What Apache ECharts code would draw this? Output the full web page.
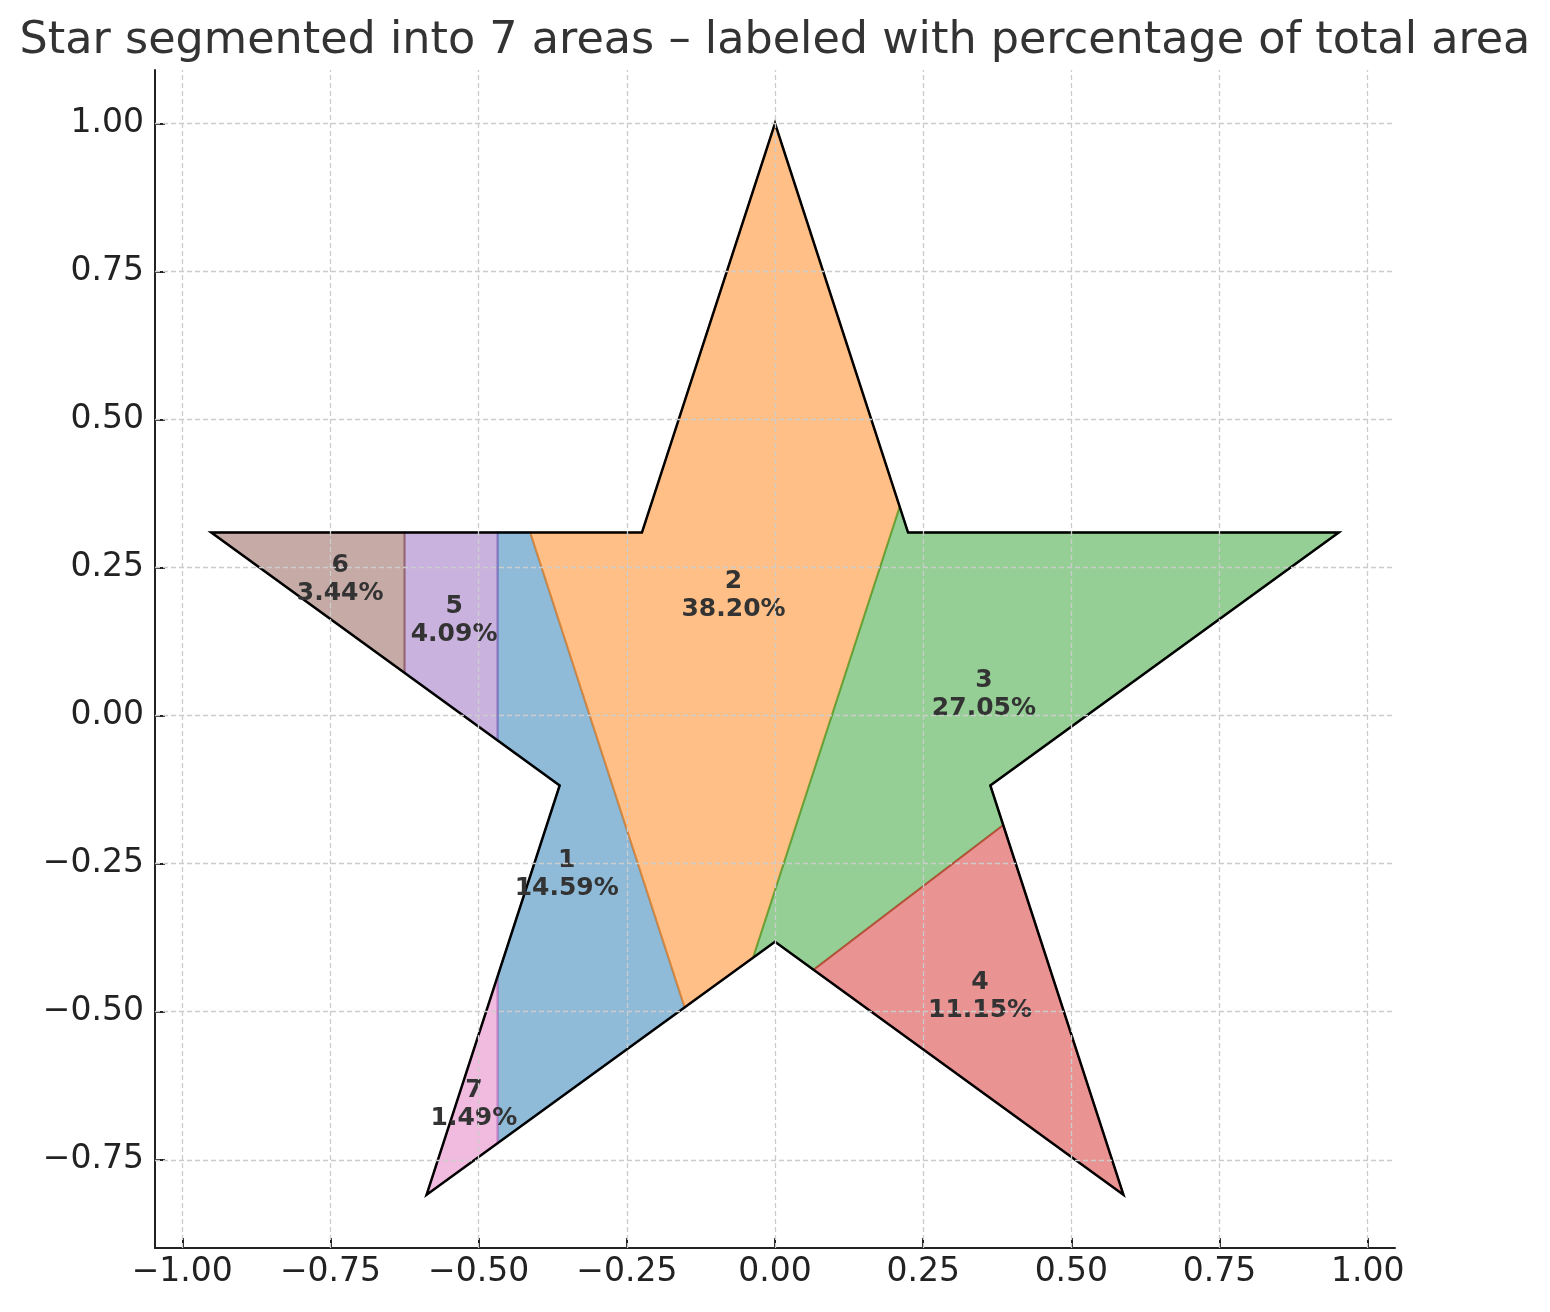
<!DOCTYPE html>
<html>
<head>
<meta charset="utf-8">
<title>Star segmented into 7 areas</title>
<script src="https://cdn.jsdelivr.net/npm/echarts@6/dist/echarts.min.js"></script>
<style>
	html, body { margin: 0; padding: 0; background: #fff; }
	#chart { width: 1550px; height: 1312px; }
</style>
</head>
<body>
<div id="chart"></div>
<script>
	// tick labels
	const xTicks = [-1, -0.75, -0.5, -0.25, 0, 0.25, 0.5, 0.75, 1];
	const yTicks = [-0.75, -0.5, -0.25, 0, 0.25, 0.5, 0.75, 1];

	// regions: id, share label, colour (tab10)
	const regionIds = ['1', '2', '3', '4', '5', '6', '7'];
	const regionShares = ['14.59%', '38.20%', '27.05%', '11.15%', '4.09%', '3.44%', '1.49%'];
	const regionColors = ['31,119,180', '255,127,14', '44,160,44', '214,39,40', '148,103,189', '140,86,75', '227,119,194'];

	// star outline (outer radius 1, inner 0.382)
	const starVertices = [
		[0, 1], [-0.224514, 0.309017], [-0.951057, 0.309017], [-0.363271, -0.118034],
		[-0.587785, -0.809017], [0, -0.381966], [0.587785, -0.809017], [0.363271, -0.118034],
		[0.951057, 0.309017], [0.224514, 0.309017]
	];

	// region outlines
	const region1 = [[-0.468, 0.309017], [-0.413, 0.309017], [-0.15249, -0.492756], [-0.468, -0.721987],
		[-0.468, -0.440357], [-0.363271, -0.118034], [-0.468, -0.041943]];
	const region2 = [[-0.413, 0.309017], [-0.224514, 0.309017], [0, 1], [0.21038, 0.352514],
		[-0.037, -0.408848], [-0.15249, -0.492756]];
	const region3 = [[0.21038, 0.352514], [0.224514, 0.309017], [0.951057, 0.309017], [0.363271, -0.118034],
		[0.385, -0.1849], [0.065, -0.4292], [0, -0.381966], [-0.037, -0.408848]];
	const region4 = [[0.385, -0.1849], [0.587785, -0.809017], [0.065, -0.4292]];
	const region5 = [[-0.625, 0.309017], [-0.468, 0.309017], [-0.468, -0.041943], [-0.625, 0.072124]];
	const region6 = [[-0.951057, 0.309017], [-0.625, 0.309017], [-0.625, 0.072124]];
	const region7 = [[-0.587785, -0.809017], [-0.468, -0.721987], [-0.468, -0.440357]];
	const regionPolys = [region1, region2, region3, region4, region5, region6, region7];

	function centroid(pts) {
		let a = 0, cx = 0, cy = 0;
		for (let i = 0; i < pts.length; i++) {
			const p = pts[i], q = pts[(i + 1) % pts.length];
			const c = p[0] * q[1] - q[0] * p[1];
			a += c;
			cx += (p[0] + q[0]) * c;
			cy += (p[1] + q[1]) * c;
		}
		a /= 2;
		return [cx / (6 * a), cy / (6 * a)];
	}

	const labelPos = regionPolys.map(centroid);
	const fmt = v => v.toFixed(2).replace('-', '\u2212');

	const chart = echarts.init(document.getElementById('chart'));
	const option = {
		animation: false,
		backgroundColor: '#fff',
		title: {
			text: 'Star segmented into 7 areas \u2013 labeled with percentage of total area',
			left: 'center',
			top: 14,
			textStyle: {
				fontFamily: 'DejaVu Sans',
				fontSize: 44.5,
				fontWeight: 'normal',
				color: '#333'
			}
		},
		grid: { left: 155, right: 155, top: 70, bottom: 64 },
		xAxis: {
			type: 'value',
			min: -1.046,
			max: 1.046,
			axisLine: { show: true, onZero: false, lineStyle: { color: '#222', width: 2 } },
			axisTick: { show: true, inside: true, length: 10, customValues: xTicks, lineStyle: { color: '#222', width: 2 } },
			axisLabel: { customValues: xTicks, formatter: fmt, fontFamily: 'DejaVu Sans', fontSize: 33, color: '#222', margin: 8 },
			splitLine: { show: false }
		},
		yAxis: {
			type: 'value',
			min: -0.899,
			max: 1.090,
			axisLine: { show: true, onZero: false, lineStyle: { color: '#222', width: 2 } },
			axisTick: { show: true, inside: true, length: 10, customValues: yTicks, lineStyle: { color: '#222', width: 2 } },
			axisLabel: { customValues: yTicks, formatter: fmt, fontFamily: 'DejaVu Sans', fontSize: 33, color: '#222', margin: 11 },
			splitLine: { show: false }
		},
		series: [
			{
				// dashed grid
				type: 'line',
				data: [],
				z: 1,
				silent: true,
				markLine: {
					silent: true,
					symbol: ['none', 'none'],
					label: { show: false },
					lineStyle: { color: '#cccccc', width: 1.3, type: [5, 3] },
					data: xTicks.map(v => ({ xAxis: v })).concat(yTicks.map(v => ({ yAxis: v })))
				}
			},
			{
				type: 'custom',
				z: 2,
				silent: true,
				data: labelPos,
				renderItem(params, api) {
					const i = params.dataIndex;
					const c = regionColors[i];
					return {
						type: 'polygon',
						shape: { points: regionPolys[i].map(p => api.coord(p)) },
						style: { fill: 'rgba(' + c + ',0.5)', stroke: 'rgba(' + c + ',0.6)', lineWidth: 2 }
					};
				}
			},
			{
				type: 'custom',
				z: 3,
				silent: true,
				data: [0],
				renderItem(params, api) {
					return {
						type: 'polygon',
						shape: { points: starVertices.map(p => api.coord(p)) },
						style: { fill: 'none', stroke: '#000', lineWidth: 2.5, lineJoin: 'miter', miterLimit: 10 }
					};
				}
			},
			{
				type: 'custom',
				z: 4,
				silent: true,
				data: labelPos,
				renderItem(params, api) {
					const i = params.dataIndex;
					const p = api.coord([api.value(0), api.value(1)]);
					return {
						type: 'text',
						x: p[0],
						y: p[1],
						style: {
							text: regionIds[i] + '\n' + regionShares[i],
							fill: '#333',
							font: 'bold 25px "DejaVu Sans"',
							align: 'center',
							verticalAlign: 'middle',
							lineHeight: 28
						}
					};
				}
			}
		]
	};
	option && chart.setOption(option);
</script>
</body>
</html>
